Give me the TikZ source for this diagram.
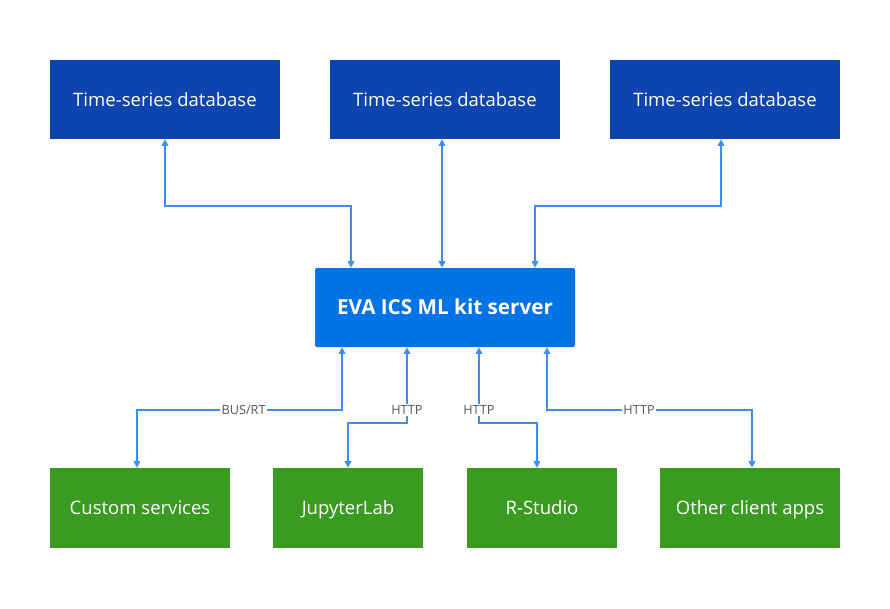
\documentclass[tikz,border=0pt]{standalone}
\usepackage{fontspec}
\setmainfont{Open Sans}
\usetikzlibrary{arrows.meta}
\definecolor{dbblue}{HTML}{0D45B0}
\definecolor{srvblue}{HTML}{0073E6}
\definecolor{appgreen}{HTML}{3A9B21}
\definecolor{linkblue}{HTML}{3C8FEB}
\definecolor{lblgray}{HTML}{555555}
\tikzset{
  dbbox/.style={fill=dbblue, text=white, minimum width=230*0.75pt, minimum height=79*0.75pt, inner sep=0pt, text height=10pt, text depth=0pt, font=\fontsize{13.9}{16}\selectfont},
  srvbox/.style={fill=srvblue, text=white, minimum width=260*0.75pt, minimum height=79*0.75pt, inner sep=0pt, rounded corners=1.5pt, text height=11pt, text depth=0pt, font=\fontsize{15.5}{18}\selectfont\bfseries},
  appbox/.style={fill=appgreen, text=white, minimum height=80*0.75pt, inner sep=0pt, text height=10pt, text depth=0pt, font=\fontsize{13.9}{16}\selectfont},
  link/.style={draw=linkblue, line width=1.4pt, {Triangle[length=5pt,width=5pt]}-{Triangle[length=5pt,width=5pt]}},
  lbl/.style={fill=white, text=lblgray, inner sep=1.2pt, font=\fontsize{9.5}{11}\selectfont}
}
\begin{document}
\begin{tikzpicture}[x=0.75pt, y=-0.75pt]
\useasboundingbox (0,0) rectangle (890,608);
% databases
\node[dbbox] (t1) at (165,99.5) {Time-series database};
\node[dbbox] (t2) at (445,99.5) {Time-series database};
\node[dbbox] (t3) at (725,99.5) {Time-series database};
% server
\node[srvbox] (c) at (445,307.5) {EVA ICS ML kit server};
% apps
\node[appbox, minimum width=180*0.75pt] (a1) at (140,508) {Custom services};
\node[appbox, minimum width=150*0.75pt] (a2) at (348,508) {JupyterLab};
\node[appbox, minimum width=150*0.75pt] (a3) at (542,508) {R-Studio};
\node[appbox, minimum width=180*0.75pt] (a4) at (750,508) {Other client apps};
% top links
\draw[link] (c.north -| 351,0) -- (351,206) -- (165,206) -- (t1.south -| 165,0);
\draw[link] (c.north -| 442,0) -- (t2.south -| 442,0);
\draw[link] (c.north -| 535,0) -- (535,206) -- (721,206) -- (t3.south -| 721,0);
% bottom links
\draw[link] (c.south -| 342,0) -- (342,410) -- node[lbl, pos=0.48] {BUS/RT} (137,410) -- (a1.north -| 137,0);
\draw[link] (c.south -| 407,0) -- node[lbl, pos=0.83] {HTTP} (407,423) -- (348,423) -- (a2.north -| 348,0);
\draw[link] (c.south -| 479,0) -- node[lbl, pos=0.83] {HTTP} (479,423) -- (537,423) -- (a3.north -| 537,0);
\draw[link] (c.south -| 547,0) -- (547,410) -- node[lbl, pos=0.449] {HTTP} (752,410) -- (a4.north -| 752,0);
\end{tikzpicture}
\end{document}
